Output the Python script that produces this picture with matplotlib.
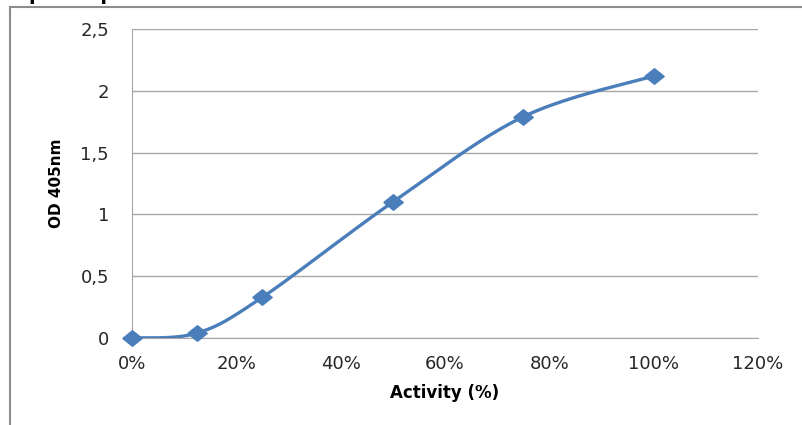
import numpy as np
import matplotlib
matplotlib.use("Agg")
import matplotlib.pyplot as plt
from matplotlib.lines import Line2D
from matplotlib.ticker import FuncFormatter

# standard curve readings
activity = [0, 12.5, 25, 50, 75, 100]        # %
od405 = [0.0, 0.04, 0.33, 1.10, 1.79, 2.12]

x_ticks = [0, 20, 40, 60, 80, 100, 120]
y_ticks = [0, 0.5, 1, 1.5, 2, 2.5]

blue = "#4A7EBB"
grid = "#A6A6A6"


def smooth(xs, ys, n=40):
    # excel-like smoothed line: bezier segments with catmull-rom control points
    pts = np.column_stack([xs, ys]).astype(float)
    out = [pts[0]]
    for i in range(len(pts) - 1):
        p0 = pts[i - 1] if i > 0 else pts[i]
        p1, p2 = pts[i], pts[i + 1]
        p3 = pts[i + 2] if i + 2 < len(pts) else pts[i + 1]
        c1 = p1 + (p2 - p0) / 6.0
        c2 = p2 - (p3 - p1) / 6.0
        t = np.linspace(0, 1, n)[1:, None]
        seg = ((1 - t) ** 3) * p1 + 3 * ((1 - t) ** 2) * t * c1 + 3 * (1 - t) * t ** 2 * c2 + t ** 3 * p2
        out.extend(seg)
    out = np.array(out)
    return out[:, 0], out[:, 1]


plt.rcParams['font.family'] = ['DejaVu Sans']

fig = plt.figure(figsize=(8.02, 4.25), dpi=100)
ax = fig.add_axes([132 / 802, 1 - 338 / 425, 626 / 802, 309 / 425])

# slightly flattened diamond, like the excel marker
diamond = [(-1, 0), (0, 0.8), (1, 0), (0, -0.8), (-1, 0)]

sx, sy = smooth(activity, od405)
ax.plot(sx, sy, color=blue, lw=2.4, solid_capstyle='round', zorder=3)
ax.plot(activity, od405, linestyle='none', marker=diamond, markersize=14,
        color=blue, markeredgecolor=blue, zorder=4, clip_on=False)

ax.set_xlim(0, 120)
ax.set_ylim(0, 2.5)
ax.set_xticks(x_ticks)
ax.set_yticks(y_ticks)
ax.xaxis.set_major_formatter(FuncFormatter(lambda v, p: f"{int(v)}%"))
ax.yaxis.set_major_formatter(FuncFormatter(lambda v, p: f"{v:g}".replace(".", ",")))
ax.tick_params(length=0, labelsize=13, colors="#262626")
ax.tick_params(axis='y', pad=16.5)
ax.tick_params(axis='x', pad=12)

ax.grid(axis='y', color=grid, lw=1)
ax.set_axisbelow(True)
for s in ['top', 'right']:
    ax.spines[s].set_visible(False)
ax.spines['left'].set_color(grid)
ax.spines['bottom'].set_color(grid)

ax.set_xlabel("Activity (%)", fontsize=12, fontweight='bold', labelpad=8)
ax.set_ylabel("OD 405nm", fontsize=11, fontweight='bold', labelpad=12)

# frame around the chart (cropped screenshot)
fig.add_artist(Line2D([10 / 802, 1], [1 - 7 / 425] * 2, color="#8C8C8C", lw=1.5))
fig.add_artist(Line2D([10 / 802] * 2, [0, 1 - 7 / 425], color="#8C8C8C", lw=1.5))

# title, mostly cut off at the top as in the screenshot
fig.text(15 / 802, 1 - 0.5 / 425, "Spectrophotometric Standard Curve",
         fontsize=14, fontweight='bold', va='baseline', ha='left')

fig.savefig("out.png", dpi=100)
